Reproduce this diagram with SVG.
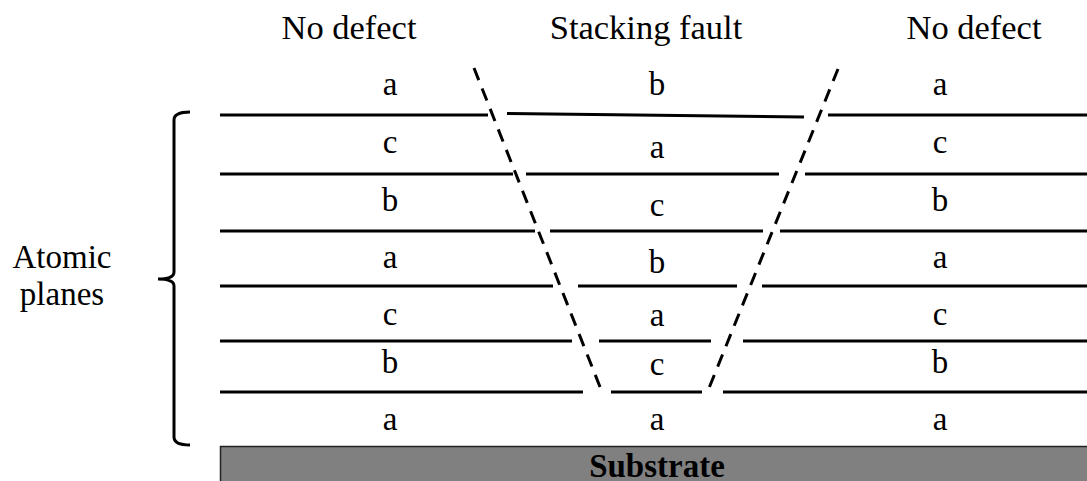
<svg xmlns="http://www.w3.org/2000/svg" width="1087" height="481" viewBox="0 0 1087 481">
<style>
text{font-family:"Liberation Serif","Times New Roman",serif;font-size:33px;fill:#000;text-anchor:middle}
.hd{font-size:34.5px}
.ln{stroke:#000;stroke-width:3;fill:none}
.ds{stroke:#000;stroke-width:3;fill:none;stroke-dasharray:13 9}
</style>
<rect width="1087" height="481" fill="#fff"/>
<g id="headers">
<text class="hd" x="349" y="39">No defect</text>
<text class="hd" x="646" y="39">Stacking fault</text>
<text class="hd" x="974" y="39">No defect</text>
</g>
<g id="bracket">
<path class="ln" d="M190,112 Q174,112 174,120 L174,272 Q174,279 158,279 Q174,279 174,286 L174,437 Q174,445 190,445"/>
<text x="62" y="268">Atomic</text>
<text x="62" y="305">planes</text>
</g>
<g id="connectors">
<line class="ln" x1="220" y1="115" x2="488" y2="115"/>
<line class="ln" x1="507" y1="113.5" x2="804" y2="117"/>
<line class="ln" x1="828" y1="115" x2="1087" y2="115"/>
<line class="ln" x1="220" y1="174" x2="513" y2="174"/>
<line class="ln" x1="526" y1="174" x2="779" y2="174"/>
<line class="ln" x1="805" y1="174" x2="1087" y2="174"/>
<line class="ln" x1="220" y1="231" x2="535" y2="231"/>
<line class="ln" x1="550" y1="231" x2="763" y2="231"/>
<line class="ln" x1="780" y1="231" x2="1087" y2="231"/>
<line class="ln" x1="220" y1="286" x2="553" y2="286"/>
<line class="ln" x1="578" y1="286" x2="737" y2="286"/>
<line class="ln" x1="762" y1="286" x2="1087" y2="286"/>
<line class="ln" x1="220" y1="341" x2="572" y2="341"/>
<line class="ln" x1="599" y1="341" x2="711" y2="341"/>
<line class="ln" x1="743" y1="341" x2="1087" y2="341"/>
<line class="ln" x1="220" y1="392" x2="583" y2="392"/>
<line class="ln" x1="611" y1="392" x2="702" y2="392"/>
<line class="ln" x1="723" y1="392" x2="1087" y2="392"/>
<line class="ds" x1="474" y1="68" x2="602" y2="392"/>
<line class="ds" x1="838" y1="69" x2="707" y2="393"/>
</g>
<g id="col-left">
<text x="390" y="95">a</text>
<text x="390" y="153">c</text>
<text x="390" y="211">b</text>
<text x="390" y="268">a</text>
<text x="390" y="325">c</text>
<text x="390" y="373">b</text>
<text x="390" y="430">a</text>
</g>
<g id="col-mid">
<text x="657" y="95">b</text>
<text x="657" y="158">a</text>
<text x="657" y="216">c</text>
<text x="657" y="273">b</text>
<text x="657" y="326">a</text>
<text x="657" y="375">c</text>
<text x="657" y="430">a</text>
</g>
<g id="col-right">
<text x="940" y="95">a</text>
<text x="940" y="153">c</text>
<text x="940" y="211">b</text>
<text x="940" y="268">a</text>
<text x="940" y="325">c</text>
<text x="940" y="373">b</text>
<text x="940" y="430">a</text>
</g>
<g id="substrate">
<rect x="220.5" y="446.5" width="870" height="40" fill="#808080" stroke="#222" stroke-width="1.5"/>
<text x="657" y="477" font-weight="bold" font-size="35">Substrate</text>
</g>
</svg>
